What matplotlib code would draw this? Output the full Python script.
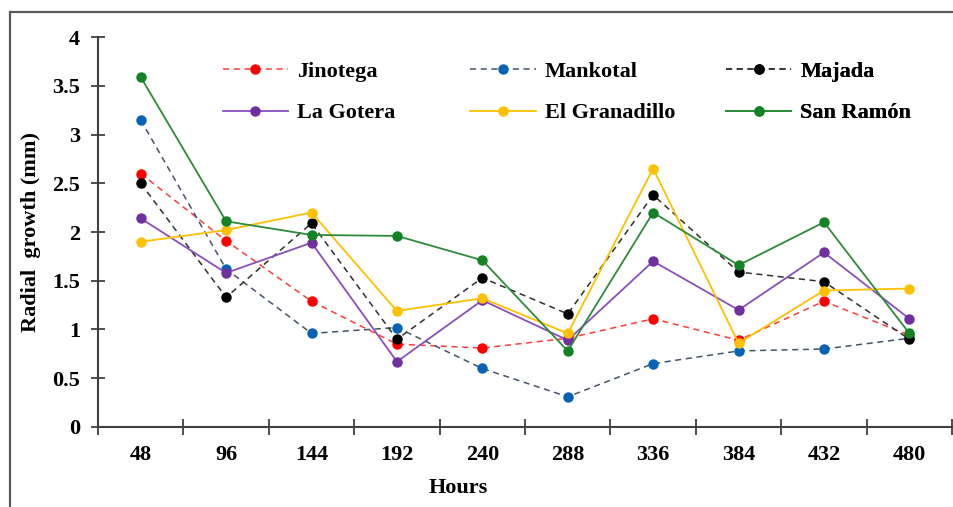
import matplotlib.pyplot as plt
from matplotlib.patches import Rectangle

hours = ["48", "96", "144", "192", "240", "288", "336", "384", "432", "480"]

jinotega = [2.60, 1.91, 1.29, 0.85, 0.81, 0.91, 1.11, 0.89, 1.29, 0.94]
mankotal = [3.15, 1.62, 0.96, 1.02, 0.60, 0.31, 0.65, 0.78, 0.80, 0.91]
majada = [2.50, 1.33, 2.09, 0.90, 1.53, 1.16, 2.38, 1.59, 1.49, 0.90]
la_gotera = [2.14, 1.58, 1.89, 0.67, 1.30, 0.89, 1.70, 1.20, 1.79, 1.11]
el_granadillo = [1.90, 2.02, 2.20, 1.19, 1.32, 0.96, 2.65, 0.86, 1.40, 1.42]
san_ramon = [3.59, 2.11, 1.97, 1.96, 1.71, 0.78, 2.20, 1.66, 2.10, 0.96]

plt.rcParams["font.family"] = "serif"
plt.rcParams["font.serif"] = ["Liberation Serif", "DejaVu Serif"]
plt.rcParams["font.weight"] = "bold"

fig = plt.figure(figsize=(9.54, 5.07), dpi=100)
ax = fig.add_axes([0.1027, 0.1578, 0.8953, 0.7692])

# outer frame (only top/left visible in the crop)
fig.patches.append(Rectangle((10 / 954, -0.1), 1.2, 1 - 12 / 507 + 0.1,
                             transform=fig.transFigure, fill=False,
                             edgecolor="#595959", lw=1.6))

x = range(len(hours))
l1, = ax.plot(x, jinotega, "--", color="#FF3B3B", lw=1.1, marker="o", ms=6.5,
              mfc="#FF0000", mec="#FF0000", dashes=(4, 3), label="Jinotega")
l2, = ax.plot(x, mankotal, "--", color="#44546A", lw=1.1, marker="o", ms=6.5,
              mfc="#0563B5", mec="#0563B5", dashes=(4, 3), label="Mankotal")
l3, = ax.plot(x, majada, "--", color="#303030", lw=1.1, marker="o", ms=6.5,
              mfc="#000000", mec="#000000", dashes=(4, 3), label="Majada")
l4, = ax.plot(x, la_gotera, "-", color="#8A4FBF", lw=1.3, marker="o", ms=6.5,
              mfc="#7030A0", mec="#7030A0", label="La Gotera")
l5, = ax.plot(x, el_granadillo, "-", color="#FFC000", lw=1.3, marker="o", ms=6.5,
              mfc="#FFC000", mec="#FFC000", label="El Granadillo")
l6, = ax.plot(x, san_ramon, "-", color="#2E8B3A", lw=1.3, marker="o", ms=6.5,
              mfc="#138226", mec="#138226", label="San Ramón")

ax.set_xlim(-0.5, len(hours) - 0.5)
ax.set_ylim(0, 4)
ax.set_yticks([0, 0.5, 1, 1.5, 2, 2.5, 3, 3.5, 4])
ax.set_yticklabels(["0", "0.5", "1", "1.5", "2", "2.5", "3", "3.5", "4"])
ax.set_xticks([i - 0.5 for i in range(len(hours) + 1)])
ax.set_xticklabels([])
ax.set_xticks(list(x), minor=True)
ax.set_xticklabels(hours, minor=True)

ax.tick_params(axis="y", direction="inout", length=10, width=1.3,
               color="#404040", labelsize=16, pad=8)
ax.tick_params(axis="x", which="major", direction="inout", length=11,
               width=1.3, color="#404040")
ax.tick_params(axis="x", which="minor", length=0, labelsize=16, pad=13)

for s in ["top", "right"]:
    ax.spines[s].set_visible(False)
for s in ["left", "bottom"]:
    ax.spines[s].set_color("#404040")
    ax.spines[s].set_linewidth(1.5)

fig.text(31 / 954, 1 - 232 / 507, "Radial  growth (mm)", rotation=90,
         ha="center", va="center", fontsize=16, fontweight="bold")
ax.text((458 - 98) / 854, (427 - 488) / 390, "Hours", transform=ax.transAxes,
        ha="center", va="center", fontsize=16, fontweight="bold")

# three single-column legends so the columns are evenly spaced
cols = [(l1, l4), (l2, l5), (l3, l6)]
xpos = [0.146, 0.436, 0.735]
for pair, xp in zip(cols, xpos):
    leg = ax.legend(pair, [h.get_label() for h in pair], loc="upper left",
                    bbox_to_anchor=(xp, 0.938), frameon=False, fontsize=16,
                    handlelength=2.95, handletextpad=0.4, labelspacing=0.95,
                    borderaxespad=0, borderpad=0)
    ax.add_artist(leg)

fig.savefig("out.png", dpi=100)
